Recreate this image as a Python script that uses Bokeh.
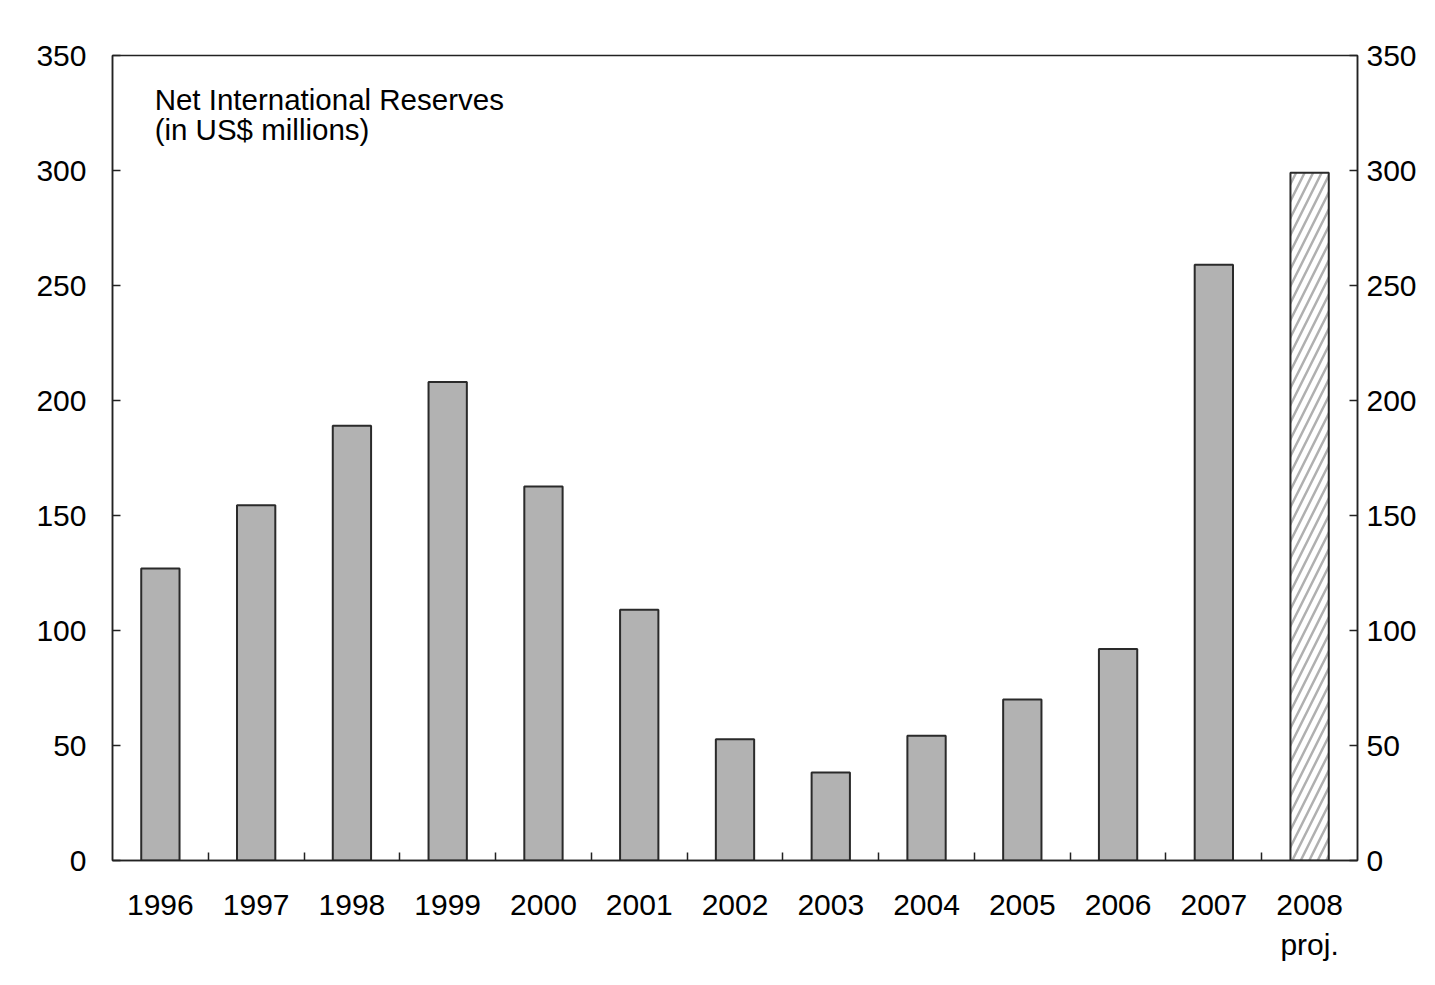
import numpy as np
from bokeh.plotting import figure
from bokeh.models import Range1d, FixedTicker, LinearAxis, Label
from bokeh.embed import file_html
from bokeh.resources import INLINE

# ---- data ----
years = ["1996", "1997", "1998", "1999", "2000", "2001", "2002",
         "2003", "2004", "2005", "2006", "2007", "2008\nproj."]
reserves = [127, 154.5, 189, 208, 162.6, 109, 52.7, 38.3, 54.2, 70, 92, 259, 299]
projected = [False] * 12 + [True]
y_ticks = [0, 50, 100, 150, 200, 250, 300, 350]
title_lines = ["Net International Reserves", "(in US$ millions)"]

FONT = "Liberation Sans"
n = len(years)
xc = np.arange(n) + 0.5

p = figure(width=1419, height=969, output_backend="svg", toolbar_location=None,
           x_range=Range1d(0, n), y_range=Range1d(0, 350),
           min_border_left=112, min_border_right=60, min_border_top=55,
           min_border_bottom=109, background_fill_color="white",
           border_fill_color="white", outline_line_color="#222222",
           outline_line_width=1.5)
p.xgrid.visible = False
p.ygrid.visible = False

hist_x = [x for x, pr in zip(xc, projected) if not pr]
hist_v = [v for v, pr in zip(reserves, projected) if not pr]
proj_x = [x for x, pr in zip(xc, projected) if pr]
proj_v = [v for v, pr in zip(reserves, projected) if pr]

p.vbar(x=hist_x, top=hist_v, bottom=0, width=0.4, fill_color="#b2b2b2",
       line_color="#2a2a2a", line_width=2)
p.vbar(x=proj_x, top=proj_v, bottom=0, width=0.4, fill_color="white",
       line_color="#2a2a2a", line_width=2, hatch_pattern="/",
       hatch_color="#b0b0b0", hatch_scale=17, hatch_weight=2.5)

# bottom axis: labels at centres, minor ticks at boundaries
xa = p.xaxis[0]
xa.ticker = FixedTicker(ticks=list(xc), minor_ticks=list(range(1, n)))
xa.major_label_overrides = {float(x): lab for x, lab in zip(xc, years)}
xa.major_tick_in = 0
xa.major_tick_out = 0
xa.minor_tick_in = 8
xa.minor_tick_out = 0
xa.minor_tick_line_color = "#222222"
xa.minor_tick_line_width = 1.5
xa.axis_line_color = "#222222"
xa.axis_line_width = 1.5
xa.major_label_text_font = FONT
xa.major_label_text_font_size = "30px"
xa.major_label_text_color = "black"
xa.major_label_text_line_height = 1.24
xa.major_label_standoff = 27

ya = p.yaxis[0]
ya.ticker = FixedTicker(ticks=y_ticks)

yr = LinearAxis(ticker=FixedTicker(ticks=y_ticks))
p.add_layout(yr, "right")
for ax, so in [(ya, 26), (yr, 9)]:
    ax.major_tick_in = 8
    ax.major_tick_out = 0
    ax.minor_tick_in = 0
    ax.minor_tick_out = 0
    ax.major_tick_line_color = "#222222"
    ax.major_tick_line_width = 1.5
    ax.axis_line_color = "#222222"
    ax.axis_line_width = 1.5
    ax.major_label_text_font = FONT
    ax.major_label_text_font_size = "30px"
    ax.major_label_text_color = "black"
    ax.major_label_standoff = so

# title inside the plot
p.add_layout(Label(x=0.44, y=331, text=title_lines[0], text_font=FONT,
                   text_font_size="29.5px", text_color="black",
                   text_baseline="alphabetic", text_align="left"))
p.add_layout(Label(x=0.44, y=318, text=title_lines[1], text_font=FONT,
                   text_font_size="29.5px", text_color="black",
                   text_baseline="alphabetic", text_align="left"))

open("out.html", "w").write(file_html(p, INLINE))
